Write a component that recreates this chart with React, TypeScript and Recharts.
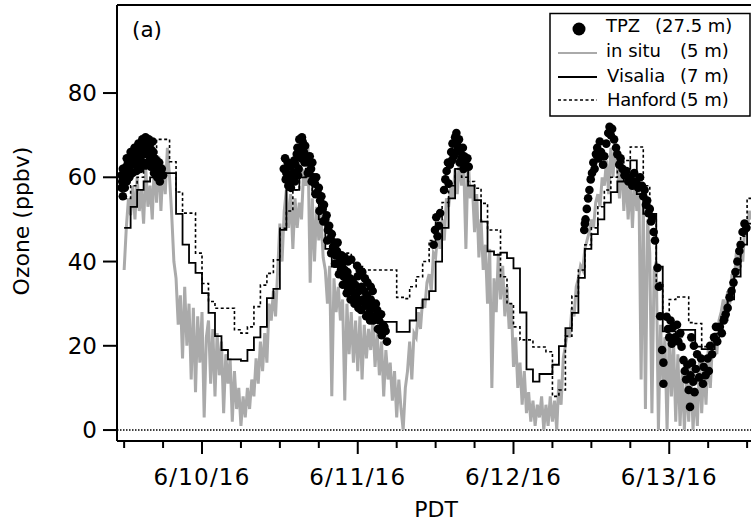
import React from 'react'
import { ComposedChart, Line, Scatter, XAxis, YAxis, ReferenceLine } from 'recharts'

// time axis: hours since 6/9/16 00:00 PDT
const X_MIN = 10.9
const X_MAX = 108.6
const Y_MIN = -2.6
const Y_MAX = 100.9

const timeTicks = [12, 18, 24, 30, 36, 42, 48, 54, 60, 66, 72, 78, 84, 90, 96, 102, 108]
const dateLabels: Record<number, string> = { 24: '6/10/16', 48: '6/11/16', 72: '6/12/16', 96: '6/13/16' }
const ozoneTicks = [0, 20, 40, 60, 80]

// in situ (5 m), sampled every 20 min from 12:00 on 6/9
const inSituStart = 12
const inSituStep = 1 / 3
const inSituValues = [
  38, 48, 55, 51, 58, 50, 60, 52, 57, 49, 62, 53,
  58, 50, 64, 54, 65, 52, 63, 56, 67, 60, 51, 40,
  36, 25, 32, 17, 34, 20, 30, 12, 29, 9, 27, 16,
  28, 3, 22, 26, 11, 24, 8, 23, 13, 21, 4, 18,
  11, 17, 2, 14, 5, 10, 1, 8, 3, 10, 5, 12,
  8, 17, 11, 21, 14, 23, 16, 30, 26, 33, 27, 38,
  49, 40, 52, 57, 48, 56, 43, 55, 48, 54, 50, 62,
  58, 67, 35, 55, 40, 53, 45, 51, 41, 38, 30, 39,
  8, 36, 28, 34, 26, 31, 7, 30, 18, 28, 16, 26,
  14, 27, 12, 25, 17, 24, 19, 26, 15, 23, 13, 21,
  8, 19, 12, 16, 7, 14, 3, 12, 5, 0, 10, 14,
  21, 12, 23, 22, 28, 24, 31, 29, 35, 37, 33, 42,
  41, 47, 43, 50, 45, 55, 53, 58, 55, 62, 56, 64,
  58, 63, 43, 65, 55, 58, 47, 56, 41, 50, 38, 44,
  30, 43, 10, 36, 28, 42, 31, 39, 27, 34, 24, 30,
  15, 22, 10, 16, 6, 14, 4, 9, 2, 7, 1, 6,
  3, 8, 0, 6, 1, 8, 2, 7, 0, 12, 6, 17,
  20, 24, 22, 29, 27, 34, 36, 39, 38, 43, 45, 47,
  50, 48, 54, 56, 53, 60, 58, 64, 56, 67, 60, 69,
  63, 55, 65, 52, 61, 50, 59, 48, 60, 52, 57, 12,
  55, 5, 50, 42, 4, 38, 40, 0, 25, 12, 22, 0,
  23, 8, 21, 2, 18, 1, 14, 0, 12, 2, 16, 0,
  10, 1, 17, 4, 15, 6, 19, 10, 21, 23, 18, 26,
  28, 31, 27, 33, 30, 37, 35, 42, 38, 44, 40, 49,
  47, 52, 50,
]

// Visalia (7 m), hourly from 12:00 on 6/9
const visaliaStart = 12
const visaliaValues = [
  48, 53, 57, 59, 60, 61, 61, 61, 51.3, 44, 39.7, 37.3,
  32.5, 27.8, 22.3, 19, 16.8, 16.8, 16.4, 19, 22, 24.5, 31.3, 33.5,
  47.5, 57, 57, 60, 62, 56, 50, 43, 38.8, 36.4, 32.6, 32.6,
  30, 28, 25.7, 25.7, 25.7, 25.7, 23.3, 23.3, 26, 29, 31, 33,
  40, 48, 55, 62, 64, 58, 54.6, 49.5, 42.4, 41.6, 42.1, 40.8,
  38.4, 27.9, 14.4, 11.5, 13.3, 13.3, 15.5, 19.9, 24.2, 27.8, 36.1, 43,
  46.5, 50, 54, 56.5, 59, 62, 64, 56, 51.3, 51.3, 38.8, 23.4,
  23.4, 22.2, 23.8, 23.8, 19.8, 19.2, 19.2, 22.9, 26.9, 31, 36.4, 44,
  49, 52,
]

// Hanford (5 m), hourly from 12:00 on 6/9
const hanfordStart = 12
const hanfordValues = [
  55, 58, 60, 62, 64, 69, 69, 63.7, 56.5, 51.5, 51.5, 42,
  34.8, 30.5, 28.9, 28.9, 28.9, 23.8, 23, 24.5, 29.3, 34.4, 37.2, 40.4,
  47.9, 52, 57, 60, 61, 56, 52, 47.9, 45, 42, 42, 39.6,
  38.8, 38, 38, 38, 38, 38, 31.5, 31.2, 34, 36.4, 40, 45,
  50, 54, 58, 62, 60, 59, 57.4, 53.8, 47.5, 47.5, 36.4, 30,
  24.5, 21.4, 21.4, 19.7, 19.7, 18.6, 8, 9.5, 22.3, 31.8, 38, 44,
  48, 53, 57, 60, 63, 64, 67.2, 67.2, 58, 50, 35, 27,
  31, 31.6, 31.6, 25.5, 25.3, 19.8, 19.8, 22, 26, 32, 38, 46,
  55, 57,
]

// TPZ lidar (27.5 m)
const tpzHours = [
  11.6, 11.6, 11.7, 11.8, 11.8, 11.9, 12.0, 12.1, 12.2, 12.3, 12.4, 12.4, 12.5, 12.6, 12.8, 12.8,
  12.9, 13.0, 13.1, 13.2, 13.3, 13.4, 13.5, 13.6, 13.7, 13.8, 13.9, 14.0, 14.1, 14.2, 14.3, 14.4,
  14.5, 14.6, 14.7, 14.8, 14.9, 15.0, 15.1, 15.2, 15.3, 15.4, 15.5, 15.6, 15.7, 15.8, 15.9, 16.0,
  16.1, 16.2, 16.3, 16.4, 16.5, 16.6, 16.7, 16.8, 17.0, 17.1, 17.2, 17.4, 17.5, 17.6, 17.8, 18.0,
  36.6, 36.8, 36.9, 37.0, 37.2, 37.3, 37.4, 37.6, 37.7, 37.9, 38.1, 38.2, 38.3, 38.4, 38.6, 38.7,
  38.8, 38.9, 39.0, 39.1, 39.3, 39.4, 39.5, 39.7, 39.8, 39.9, 40.1, 40.3, 40.4, 40.6, 40.8, 40.9,
  41.0, 41.2, 41.4, 41.5, 41.6, 41.8, 42.0, 42.1, 42.2, 42.4, 42.6, 42.7, 42.8, 43.0, 43.2, 43.3,
  43.4, 43.6, 43.8, 43.9, 44.0, 44.2, 44.4, 44.5, 44.6, 44.8, 44.9, 45.0, 45.1, 45.2, 45.4, 45.5,
  45.6, 45.7, 45.8, 46.0, 46.0, 46.2, 46.3, 46.4, 46.5, 46.6, 46.8, 46.9, 47.0, 47.0, 47.2, 47.4,
  47.5, 47.6, 47.8, 47.9, 48.0, 48.1, 48.2, 48.3, 48.4, 48.5, 48.6, 48.7, 48.8, 49.0, 49.1, 49.2,
  49.3, 49.4, 49.5, 49.6, 49.8, 49.9, 50.0, 50.0, 50.2, 50.3, 50.4, 50.5, 50.8, 51.0, 51.1, 51.3,
  51.5, 51.6, 51.7, 51.9, 52.1, 52.3, 52.5,
  59.7, 59.9, 60.1, 60.3, 60.5, 60.7, 61.3, 61.5, 61.7, 61.9, 62.0, 62.2, 62.4, 62.5, 62.6, 62.8,
  63.0, 63.1, 63.2, 63.4, 63.6, 63.7, 63.8, 64.0, 64.2, 64.3, 64.4, 64.6, 64.9, 65.1,
  82.9, 83.0, 83.1, 83.3, 83.5, 83.7, 83.9, 84.1, 84.3, 84.5, 84.7, 84.9, 85.1, 85.3, 85.5, 85.8,
  86.0, 86.3, 86.6, 86.8, 87.0, 87.2, 87.5, 87.8, 88.0, 88.3, 88.5, 88.8, 89.1, 89.4, 89.7, 90.0,
  90.3, 90.6, 90.9, 91.2, 91.5, 91.8, 92.0, 92.2, 92.4, 92.6, 92.8, 93.0, 93.2, 93.4, 93.6, 93.8,
  94.2, 94.4, 94.6, 94.9, 95.1, 95.1, 95.6, 95.8, 96.0, 96.2, 96.4, 96.6, 96.9, 97.2, 97.4, 97.7,
  97.9, 98.2, 98.4, 98.6, 98.8, 99.0, 99.2, 99.3, 99.5, 99.7, 99.9, 100.1, 99.4, 99.8, 100.3, 100.6,
  100.9, 101.2, 101.3, 101.6, 101.9, 102.1, 102.3, 102.6, 102.9, 103.2, 103.4, 103.8, 104.1,
  104.4, 104.7, 105.0, 105.3, 105.6, 105.9, 106.2, 106.5, 106.8, 107.0, 107.3, 107.6, 107.9,
]
const tpzValues = [
  57.5, 60.5, 59, 55.5, 62, 58.5, 61, 57.5, 60, 62.5, 59, 64.5, 61.5, 63.5, 60, 62.5,
  64.5, 66, 63, 65, 61, 64, 65.5, 67, 63.5, 66, 61.5, 64.5, 62.5, 68, 65, 67,
  62, 64, 66.5, 69, 68, 65.5, 63, 67, 69.5, 68.5, 66, 63.5, 67.5, 69, 65, 68,
  62.5, 66.5, 64, 68.5, 66, 61, 64.5, 62.5, 64, 60, 62, 63.5, 59, 61, 62, 60.5,
  62, 64.5, 59.5, 61, 63.5, 58, 60, 62.5, 57.5, 59.5, 61, 64, 59, 63, 65.5, 67,
  60.5, 62, 69, 67, 64.5, 69.5, 68.5, 66, 63.5, 67.5, 65, 61, 63.5, 65, 62, 59,
  63.5, 60, 58.5, 56, 60, 56.5, 57.5, 52, 54.5, 55.5, 52.5, 49.5, 53.5, 50, 51, 45,
  47.5, 48.5, 45.5, 42, 46.5, 43.5, 44.5, 39.5, 41.5, 42.5, 44.5, 39.5, 37, 41, 38, 41.5,
  39.5, 34.5, 36.5, 38, 41, 35, 32.5, 37.5, 40, 34, 36, 31, 33.5, 40.5, 35.5, 32.5,
  30, 34.5, 31.5, 39, 36.5, 29, 33, 38, 30.5, 28.5, 34, 37.5, 31, 33, 36, 29.5,
  27, 32, 35, 30, 28, 26, 31, 34, 29, 33, 26, 27, 30, 28.5, 24, 26,
  23.5, 27.5, 22.5, 25, 24.5, 23.5, 21,
  44, 47.5, 50.5, 46, 48.5, 51.5, 57, 59.5, 61.5, 63.5, 58.5, 63, 66, 64, 68, 65,
  69.5, 66, 70.5, 67.5, 69, 63.5, 66, 64.5, 67, 62, 65, 63, 64.5, 62.5,
  47.5, 49, 50, 52.5, 55, 57, 59.5, 61, 63.5, 62, 65.5, 67, 64.5, 68.5, 66, 63,
  65, 68, 70.5, 72, 70, 71.5, 69, 67, 65.5, 63, 64.5, 62, 60.5, 61.5, 59, 60,
  58, 61, 59, 57.5, 60, 58, 55.5, 57, 53.5, 54.5, 51.5, 52.5, 49.5, 50.5, 47, 45,
  38.5, 34, 27, 19, 16, 11, 26.9, 24, 22, 26, 20.5, 24.5, 22, 25, 21, 23,
  19.8, 16.6, 14, 12, 15.5, 9.5, 5.5, 13, 16, 11.5, 9, 14.5, 22, 20, 18, 12.5,
  17, 11, 15, 13, 17, 14, 20, 18, 22, 24.5, 21, 24.5, 23,
  26, 27.5, 29, 31.5, 33, 35, 37.5, 40, 42.5, 44, 47, 49, 48,
]

const inSituData = inSituValues.map((v, i) => ({ h: inSituStart + i * inSituStep, v }))
const visaliaData = visaliaValues.map((v, i) => ({ h: visaliaStart + i, v }))
const hanfordData = hanfordValues.map((v, i) => ({ h: hanfordStart + i, v }))
const tpzData = tpzHours.map((h, i) => ({ h, v: tpzValues[i] }))

const FONT = '"DejaVu Sans", Verdana, sans-serif'

function DateTick(props: any) {
  const { x, y, payload } = props
  const label = dateLabels[payload.value]
  return (
    <g>
      <line x1={x} x2={x} y1={y} y2={y + (label ? 13 : 7)} stroke="#000" strokeWidth={2} />
      {label && (
        <text x={x} y={y + 44} textAnchor="middle" fontSize={23} letterSpacing={1.2} fill="#000" fontFamily={FONT}>
          {label}
        </text>
      )}
    </g>
  )
}

function Dot(props: any) {
  return <circle cx={props.cx} cy={props.cy} r={4.3} fill="#000" />
}

function LegendBox() {
  return (
    <svg width={751} height={130} style={{ position: 'absolute', left: 0, top: 0 }}>
      <rect x={550} y={13.5} width={200} height={102.5} fill="#fff" stroke="#000" strokeWidth={1.5} />
      <circle cx={579} cy={29} r={6.5} fill="#000" />
      <line x1={558} x2={597} y1={53} y2={53} stroke="#aaaaaa" strokeWidth={2} />
      <line x1={558} x2={597} y1={77} y2={77} stroke="#000" strokeWidth={2} />
      <line x1={558} x2={597} y1={100} y2={100} stroke="#000" strokeWidth={1.5} strokeDasharray="3 2.5" />
      <g fontSize={18} fill="#000" fontFamily={FONT}>
        <text x={606} y={32}>TPZ</text>
        <text x={655} y={32}>(27.5 m)</text>
        <text x={606} y={57}>in situ</text>
        <text x={680} y={57}>(5 m)</text>
        <text x={607} y={82}>Visalia</text>
        <text x={680} y={82}>(7 m)</text>
        <text x={607} y={105.5} letterSpacing={-0.4}>Hanford</text>
        <text x={680} y={105.5}>(5 m)</text>
      </g>
    </svg>
  )
}

export default function App() {
  return (
    <div
      style={{
        position: 'absolute',
        left: 0,
        top: 0,
        width: 751,
        height: 523,
        overflow: 'hidden',
        background: '#fff',
        fontFamily: FONT,
      }}
    >
      <ComposedChart width={751} height={523} margin={{ top: 5, right: 0, bottom: 0, left: 0 }}>
        <XAxis
          type="number"
          dataKey="h"
          domain={[X_MIN, X_MAX]}
          allowDataOverflow
          ticks={timeTicks}
          interval={0}
          height={82}
          tickSize={0}
          tickMargin={0}
          tickLine={false}
          axisLine={{ stroke: '#000', strokeWidth: 2 }}
          tick={<DateTick />}
          label={{
            content: () => (
              <text x={436} y={517} textAnchor="middle" fontSize={22} fill="#000" fontFamily={FONT}>
                PDT
              </text>
            ),
          }}
        />
        <YAxis
          type="number"
          dataKey="v"
          domain={[Y_MIN, Y_MAX]}
          allowDataOverflow
          ticks={ozoneTicks}
          width={117}
          tickSize={14}
          tickMargin={6}
          tickLine={{ stroke: '#000', strokeWidth: 2 }}
          axisLine={{ stroke: '#000', strokeWidth: 2 }}
          tick={{ fontSize: 23, fill: '#000', fontFamily: FONT }}
          label={{
            content: () => (
              <text
                transform="translate(29,221) rotate(-90)"
                textAnchor="middle"
                fontSize={22}
                fill="#000"
                fontFamily={FONT}
              >
                Ozone (ppbv)
              </text>
            ),
          }}
        />
        <ReferenceLine y={0} stroke="#000" strokeWidth={1.5} strokeDasharray="1.5 1.5" />
        <ReferenceLine
          y={Y_MAX}
          stroke="#000"
          strokeWidth={2}
          label={{
            content: () => (
              <text x={132} y={37} fontSize={21.5} fill="#000" fontFamily={FONT}>
                (a)
              </text>
            ),
          }}
        />
        <Line
          data={inSituData}
          dataKey="v"
          type="linear"
          stroke="#aaaaaa"
          strokeWidth={3}
          dot={false}
          isAnimationActive={false}
        />
        <Line
          data={hanfordData}
          dataKey="v"
          type="stepAfter"
          stroke="#000"
          strokeWidth={1.6}
          strokeDasharray="3 2.5"
          dot={false}
          isAnimationActive={false}
        />
        <Line
          data={visaliaData}
          dataKey="v"
          type="stepAfter"
          stroke="#000"
          strokeWidth={1.8}
          dot={false}
          isAnimationActive={false}
        />
        <Scatter data={tpzData} dataKey="v" shape={<Dot />} isAnimationActive={false} />
      </ComposedChart>
      <LegendBox />
    </div>
  )
}
